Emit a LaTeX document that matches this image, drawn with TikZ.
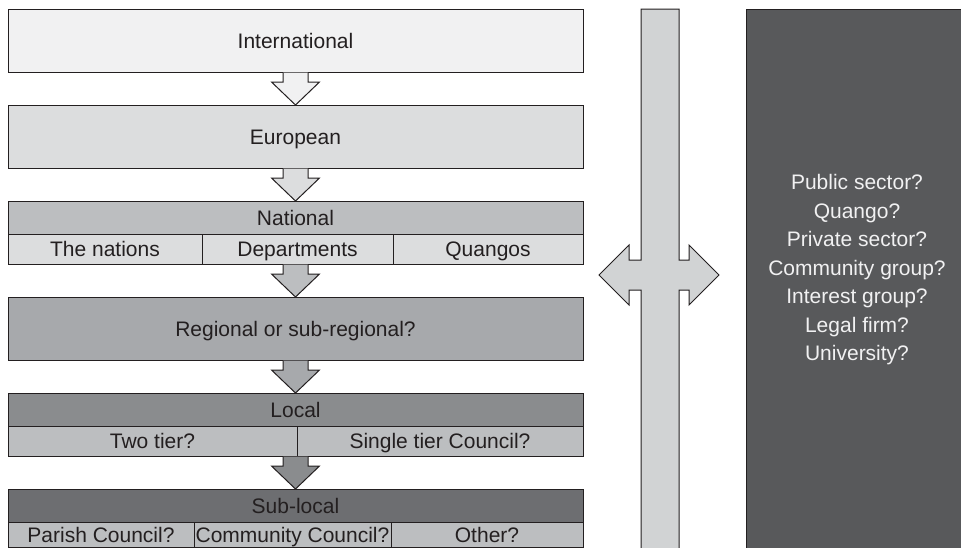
\documentclass[tikz,border=0pt]{standalone}
\usepackage{fontspec}
\setmainfont{Liberation Sans}
\usetikzlibrary{calc}
\definecolor{ink}{HTML}{231F20}
\definecolor{intlgray}{HTML}{F1F1F2}
\definecolor{eurogray}{HTML}{DCDDDE}
\definecolor{natgray}{HTML}{BCBEC0}
\definecolor{reggray}{HTML}{A7A9AC}
\definecolor{locgray}{HTML}{8A8C8E}
\definecolor{subgray}{HTML}{6D6E71}
\definecolor{bargray}{HTML}{D1D3D4}
\definecolor{actorgray}{HTML}{58595B}
\newcommand{\fatarrow}[3]{%
\draw [line width=1pt,color=ink,fill=#3] ($(#2.north |- #1.south)+(-12.5,0.5)$) -- ++(0,9.5) -- ++(-11.5,0) -- (#2.north) -- ($(#2.north |- #1.south)+(24,10)$) -- ++(-11.5,0) -- ++(0,-9.5);}
\begin{document}
\begin{tikzpicture}[x=1pt,y=-1pt,
  lvl/.style={draw=ink,line width=1pt,inner sep=0pt,outer sep=0pt,minimum width=575pt,text=ink,text height=15pt,text depth=0pt,font=\fontsize{21}{25}\selectfont},
  cell/.style={lvl,minimum height=30pt}]
\useasboundingbox (0,0) rectangle (961,547);
\clip (0,0) rectangle (961,547);
\node [lvl,minimum height=63pt,fill=intlgray] (intl) at (295.5,40.5) {International};
\node [lvl,minimum height=63pt,fill=eurogray] (euro) at (295.5,136.5) {European};
\node [lvl,minimum height=33pt,fill=natgray] (nat) at (295.5,217.5) {National};
\node [cell,minimum width=194pt,fill=eurogray] (natA) at (105,249) {The nations};
\node [cell,minimum width=191pt,fill=eurogray] (natB) at (297.5,249) {Departments};
\node [cell,minimum width=190pt,fill=eurogray] (natC) at (488,249) {Quangos};
\node [lvl,minimum height=63pt,fill=reggray] (reg) at (295.5,328.5) {Regional or sub-regional?};
\node [lvl,minimum height=33pt,fill=locgray] (loc) at (295.5,409.5) {Local};
\node [cell,minimum width=289pt,fill=natgray] (locA) at (152.5,441) {Two tier?};
\node [cell,minimum width=286pt,fill=natgray] (locB) at (440,441) {Single tier Council?};
\node [lvl,minimum height=33pt,fill=subgray] (sub) at (295.5,505.5) {Sub-local};
\node [cell,minimum height=25pt,minimum width=186pt,fill=natgray] (subA) at (101,534.5) {Parish Council?};
\node [cell,minimum height=25pt,minimum width=197pt,fill=natgray] (subB) at (292.5,534.5) {Community Council?};
\node [cell,minimum height=25pt,minimum width=192pt,fill=natgray] (subC) at (487,534.5) {Other?};
\fatarrow{intl}{euro}{intlgray}
\fatarrow{euro}{nat}{eurogray}
\fatarrow{natB}{reg}{natgray}
\fatarrow{reg}{loc}{reggray}
\fatarrow{locA}{sub}{locgray}
\draw [line width=1pt,color=ink,fill=bargray] (641,9) -- (641,260) -- (629,260) -- (629,245) -- (599,275) -- (629,305) -- (629,290) -- (641,290) -- (641,560) -- (679,560) -- (679,290) -- (689,290) -- (689,305) -- (719,275) -- (689,245) -- (689,260) -- (679,260) -- (679,9) -- cycle;
\draw [line width=1pt,color=ink,fill=actorgray] (746,9) rectangle (975,560);
\node [align=center,text=intlgray,font=\fontsize{21}{28.5}\selectfont] (actors) at (857,270) {Public sector?\\Quango?\\Private sector?\\Community group?\\Interest group?\\Legal firm?\\University?};
\end{tikzpicture}
\end{document}
